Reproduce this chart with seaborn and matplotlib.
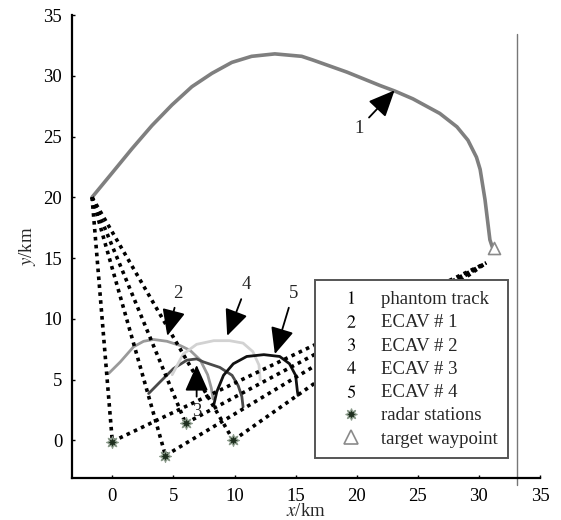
import numpy as np
import pandas as pd
import matplotlib
matplotlib.use("Agg")
import matplotlib.pyplot as plt
import seaborn as sns
from matplotlib.lines import Line2D

# ---------------- data ----------------
phantom_x = [-1.66, -0.02, 1.61, 3.24, 4.88, 6.51, 8.15, 9.78, 11.4, 13.3, 15.5,
             16.4, 19.2, 21.9, 23.1, 24.6, 26.8, 28.2, 29.1, 29.8, 30.1, 30.5, 30.9, 31.1]
phantom_y = [20.0, 22.0, 24.0, 25.9, 27.6, 29.1, 30.2, 31.1, 31.6, 31.8, 31.6,
             31.3, 30.3, 29.2, 28.75, 28.1, 26.9, 25.8, 24.7, 23.3, 22.3, 19.8, 16.5, 15.9]

ecav1_x = [-0.3, 0.65, 1.74, 2.56, 3.37, 4.47, 5.56, 6.37, 7.2, 7.8, 8.1, 8.25]
ecav1_y = [5.5, 6.45, 7.7, 8.15, 8.3, 8.15, 7.8, 7.4, 6.6, 5.4, 4.3, 3.4]

ecav2_x = [2.97, 3.9, 5.0, 6.1, 6.9, 7.46, 8.8, 9.8, 10.3, 10.6, 10.7]
ecav2_y = [3.85, 4.8, 5.9, 6.6, 6.7, 6.45, 6.0, 5.35, 4.5, 3.6, 2.75]

ecav3_x = [4.9, 5.8, 6.9, 8.3, 9.6, 10.7, 11.5, 12.0, 12.1]
ecav3_y = [5.4, 7.1, 7.9, 8.2, 8.2, 8.0, 7.3, 6.2, 5.0]

ecav4_x = [8.3, 8.55, 9.1, 9.9, 11.0, 12.4, 13.7, 14.5, 15.0, 15.15, 15.2]
ecav4_y = [2.9, 4.0, 5.35, 6.3, 6.9, 7.05, 6.9, 6.3, 5.35, 4.0, 3.7]

radar_x = [0.0, 4.35, 6.0, 9.9]
radar_y = [-0.1, -1.25, 1.4, 0.0]

target_x = [31.2]
target_y = [15.8]

sight_end_x = 30.6
sight_end_y = 14.6

frame_x = 33.1

# arrow labels: text, label position, arrow tip
arrow_labels = ["1", "2", "3", "4", "5"]
label_x = [20.2, 5.4, 6.9, 11.0, 14.8]
label_y = [25.7, 12.1, 2.4, 12.8, 12.1]
tip_x = [23.1, 4.5, 6.9, 9.4, 13.3]
tip_y = [28.8, 8.6, 6.2, 8.6, 7.1]

legend_labels = ["phantom track", "ECAV # 1", "ECAV # 2", "ECAV # 3", "ECAV # 4",
                 "radar stations", "target waypoint"]

xticks = [0, 5, 10, 15, 20, 25, 30, 35]
yticks = [0, 5, 10, 15, 20, 25, 30, 35]

# ---------------- style ----------------
sns.set_theme(style="ticks")
plt.rcParams["font.family"] = ["Liberation Serif", "DejaVu Serif"]
plt.rcParams["mathtext.fontset"] = "stix"

fig = plt.figure(figsize=(5.61, 5.2), dpi=100)
ax = fig.add_axes([72 / 561, 42 / 520, 468 / 561, 463 / 520])

FS = 13.5

curves = [
    (phantom_x, phantom_y, "#7f7f7f", 2.6),
    (ecav1_x, ecav1_y, "#9a9a9a", 2.0),
    (ecav2_x, ecav2_y, "#4a4a4a", 2.0),
    (ecav3_x, ecav3_y, "#d2d2d2", 2.0),
    (ecav4_x, ecav4_y, "#111111", 2.0),
]
for cx, cy, col, lw in curves:
    df = pd.DataFrame({"x": cx, "y": cy})
    sns.lineplot(data=df, x="x", y="y", sort=False, estimator=None,
                 color=col, lw=lw, ax=ax, zorder=2)

# dotted sight lines
dot_style = dict(color="black", lw=2.6, linestyle=(0, (1, 1.2)),
                 dash_capstyle="butt", zorder=3)
for rx, ry in zip(radar_x, radar_y):
    ax.plot([phantom_x[0], rx], [phantom_y[0], ry], **dot_style)
    ax.plot([rx, sight_end_x], [ry, sight_end_y], **dot_style)

# radar stations
star_marker = (8, 1, 0)
sns.scatterplot(x=radar_x, y=radar_y, marker=star_marker, s=75,
                color="#1f2f1f", edgecolor="#8a9a8a", linewidth=0.8,
                ax=ax, zorder=5)
# target waypoint
sns.scatterplot(x=target_x, y=target_y, marker="^", s=75,
                facecolor="white", edgecolor="#8a8a8a", linewidth=1.2,
                ax=ax, zorder=5)

# arrows with number labels
for t, lx, ly, tx, ty in zip(arrow_labels, label_x, label_y, tip_x, tip_y):
    ax.annotate(t, xy=(tx, ty), xytext=(lx, ly), fontsize=FS,
                ha="center", va="center", zorder=6,
                arrowprops=dict(arrowstyle="-|>,head_length=0.45,head_width=0.2",
                                mutation_scale=36, color="black", lw=1.3,
                                shrinkA=2, shrinkB=0))

# thin gray frame line at right
ax.axvline(frame_x, ymin=-0.016, ymax=0.96, color="#777777", lw=1.0,
           clip_on=False, zorder=1)

# axes
ax.set_xlim(-3.3, 35)
ax.set_ylim(-3.1, 35)
ax.set_xticks(xticks)
ax.set_yticks(yticks)
ax.set_xticklabels([str(v) for v in xticks], fontsize=FS)
ax.set_yticklabels([str(v) for v in yticks], fontsize=FS)
ax.tick_params(direction="in", length=2.5, width=1, pad=7, colors="black")
for s in ["top", "right"]:
    ax.spines[s].set_visible(False)
for s in ["left", "bottom"]:
    ax.spines[s].set_linewidth(1.6)
    ax.spines[s].set_color("black")
ax.set_xlabel(r"$x$/km", fontsize=FS, labelpad=-1)
ax.set_ylabel(r"$y$/km", fontsize=FS, labelpad=4)

# legend
handles = [Line2D([], [], ls="none", marker=f"${i}$", color="black",
                  markersize=9, markeredgewidth=0)
           for i in range(1, 6)]
handles.append(Line2D([], [], ls="none", marker=star_marker, markersize=8.5,
                      markerfacecolor="#1f2f1f", markeredgecolor="#8a9a8a",
                      markeredgewidth=0.8))
handles.append(Line2D([], [], ls="none", marker="^", markersize=9.5,
                      markerfacecolor="white", markeredgecolor="#8a8a8a",
                      markeredgewidth=1.2))
leg = ax.legend(handles, legend_labels, loc="lower left",
                bbox_to_anchor=(0.519, 0.043), borderaxespad=0,
                fontsize=FS, numpoints=1, handlelength=2.74, handletextpad=0.23,
                borderpad=0.55, labelspacing=0.33, fancybox=False,
                framealpha=1, edgecolor="#555555", facecolor="white")
leg.get_frame().set_linewidth(1.4)
leg.set_zorder(10)

fig.savefig("out.png", dpi=100)
